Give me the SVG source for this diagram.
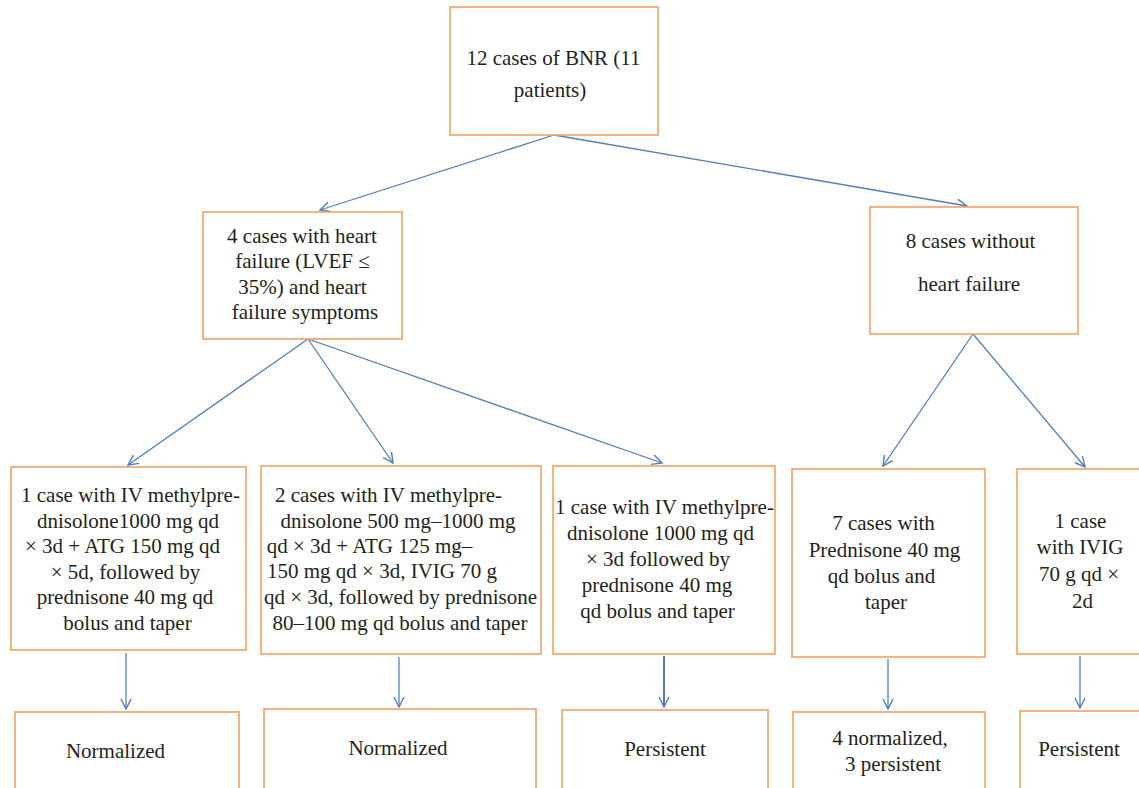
<svg xmlns="http://www.w3.org/2000/svg" width="1139" height="788" viewBox="0 0 1139 788">
<style>
.box{fill:#fff;stroke:#F4A15E;stroke-width:1.6}
text{font-family:"Liberation Serif","Times New Roman",serif;font-size:21px;fill:#231F20;text-anchor:middle}
.con{stroke:#4F7FC0;stroke-width:1.3;fill:none}
.thick{stroke-width:2}
</style>
<defs>
<marker id="ah" markerUnits="userSpaceOnUse" markerWidth="14" markerHeight="14" refX="11" refY="6" orient="auto" viewBox="0 0 14 12">
<path d="M1,1 L11,6 L1,11" fill="none" stroke="#4F7FC0" stroke-width="1.4"/>
</marker>
</defs>
<rect width="1139" height="788" fill="#fff"/>
<g id="connectors">
<line class="con" x1="554" y1="135" x2="320" y2="210" marker-end="url(#ah)"/>
<line class="con" x1="554" y1="135" x2="967" y2="206" marker-end="url(#ah)"/>
<line class="con" x1="308" y1="339" x2="128" y2="465" marker-end="url(#ah)"/>
<line class="con" x1="308" y1="339" x2="393" y2="463" marker-end="url(#ah)"/>
<line class="con" x1="308" y1="339" x2="662" y2="463" marker-end="url(#ah)"/>
<line class="con" x1="973" y1="334" x2="883" y2="466" marker-end="url(#ah)"/>
<line class="con" x1="973" y1="334" x2="1085" y2="467" marker-end="url(#ah)"/>
<line class="con" x1="126" y1="653" x2="126" y2="709" marker-end="url(#ah)"/>
<line class="con" x1="399" y1="657" x2="399" y2="707" marker-end="url(#ah)"/>
<line class="con thick" x1="664" y1="656" x2="664" y2="707" marker-end="url(#ah)"/>
<line class="con" x1="888" y1="659" x2="888" y2="709" marker-end="url(#ah)"/>
<line class="con" x1="1080" y1="656" x2="1080" y2="708" marker-end="url(#ah)"/>
</g>
<g id="n-root">
<rect class="box" x="450" y="7" width="208" height="128"/>
<text x="553.5" y="65">12 cases of BNR (11</text>
<text x="550" y="97">patients)</text>
</g>
<g id="n-hf">
<rect class="box" x="203" y="212" width="199" height="127"/>
<text x="302" y="243">4 cases with heart</text>
<text x="302.5" y="268">failure (LVEF ≤</text>
<text x="302.5" y="294">35%) and heart</text>
<text x="305" y="319">failure symptoms</text>
</g>
<g id="n-nohf">
<rect class="box" x="870" y="207" width="208" height="127"/>
<text x="970.5" y="248">8 cases without</text>
<text x="969" y="291">heart failure</text>
</g>
<g id="n-t1">
<rect class="box" x="11" y="467" width="235" height="183"/>
<text x="130.5" y="502">1 case with IV methylpre-</text>
<text x="128" y="528">dnisolone1000 mg qd</text>
<text x="122.5" y="553">× 3d + ATG 150 mg qd</text>
<text x="125.5" y="579">× 5d, followed by</text>
<text x="125" y="604">prednisone 40 mg qd</text>
<text x="127.5" y="630">bolus and taper</text>
</g>
<g id="n-t2">
<rect class="box" x="261" y="466" width="280" height="188"/>
<text x="388.5" y="502">2 cases with IV methylpre-</text>
<text x="398" y="528">dnisolone 500 mg–1000 mg</text>
<text x="369.5" y="553">qd × 3d + ATG 125 mg–</text>
<text x="382" y="578">150 mg qd × 3d, IVIG 70 g</text>
<text x="400.5" y="604">qd × 3d, followed by prednisone</text>
<text x="400" y="630">80–100 mg qd bolus and taper</text>
</g>
<g id="n-t3">
<rect class="box" x="553" y="466" width="222" height="188"/>
<text x="664.5" y="514">1 case with IV methylpre-</text>
<text x="660.5" y="540">dnisolone 1000 mg qd</text>
<text x="658" y="566">× 3d followed by</text>
<text x="657" y="592">prednisone 40 mg</text>
<text x="657.5" y="618">qd bolus and taper</text>
</g>
<g id="n-t4">
<rect class="box" x="792" y="469" width="193" height="188"/>
<text x="883.5" y="530">7 cases with</text>
<text x="884.5" y="557">Prednisone 40 mg</text>
<text x="881.5" y="583">qd bolus and</text>
<text x="886" y="609">taper</text>
</g>
<g id="n-t5">
<rect class="box" x="1017" y="469" width="130" height="185"/>
<text x="1080.5" y="528">1 case</text>
<text x="1080" y="554">with IVIG</text>
<text x="1079" y="581">70 g qd ×</text>
<text x="1082.5" y="608">2d</text>
</g>
<g id="n-r1">
<rect class="box" x="15" y="712" width="224" height="90"/>
<text x="115.5" y="758">Normalized</text>
</g>
<g id="n-r2">
<rect class="box" x="264" y="709" width="272" height="90"/>
<text x="398" y="755">Normalized</text>
</g>
<g id="n-r3">
<rect class="box" x="562" y="710" width="206" height="90"/>
<text x="665" y="756">Persistent</text>
</g>
<g id="n-r4">
<rect class="box" x="793" y="712" width="192" height="90"/>
<text x="890" y="745">4 normalized,</text>
<text x="893" y="771">3 persistent</text>
</g>
<g id="n-r5">
<rect class="box" x="1020" y="711" width="130" height="90"/>
<text x="1079" y="756">Persistent</text>
</g>
</svg>
